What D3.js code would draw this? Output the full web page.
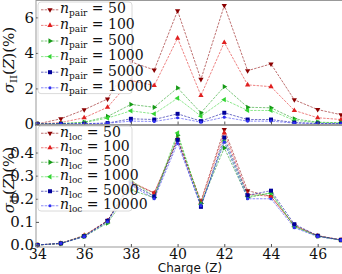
<!DOCTYPE html>
<html>
<head>
<meta charset="utf-8">
<script src="https://cdn.jsdelivr.net/npm/d3@7"></script>
<style>
  body { margin: 0; background: #fff; }
  svg { display: block; }
  .serif { font-family: "DejaVu Serif", "Liberation Serif", serif; }
</style>
</head>
<body>
<svg id="chart" width="342" height="274"></svg>
<script>
const charges = [34, 35, 36, 37, 38, 39, 40, 41, 42, 43, 44, 45, 46, 47];
const labels = ["50", "100", "500", "1000", "5000", "10000"];

// top panel: n_pair
const pair50 = [0, 0.29, 0.8, 1.41, 3.5, 3.04, 6.37, 2.51, 6.67, 3.0, 3.38, 1.36, 0.81, 0.52];
const pair100 = [0, 0.08, 0.35, 0.94, 2.45, 2.16, 4.83, 1.6, 4.59, 2.2, 2.1, 0.76, 0.35, 0.25];
const pair500 = [0, 0.02, 0.1, 0.42, 1.1, 0.94, 2.03, 0.63, 2.1, 0.94, 0.91, 0.29, 0.1, 0.07];
const pair1000 = [0, 0.02, 0.08, 0.33, 0.74, 0.57, 1.45, 0.44, 1.37, 0.76, 0.76, 0.2, 0.08, 0.05];
const pair5000 = [0, 0.01, 0.02, 0.05, 0.29, 0.25, 0.57, 0.16, 0.63, 0.25, 0.25, 0.08, 0.03, 0.02];
const pair10000 = [0, 0.01, 0.01, 0.04, 0.16, 0.14, 0.35, 0.1, 0.38, 0.16, 0.16, 0.05, 0.02, 0.01];

// bottom panel: n_loc
const loc50 = [0, 0.007, 0.04, 0.105, 0.27, 0.225, 0.455, 0.19, 0.5, 0.235, 0.21, 0.085, 0.04, 0.022];
const loc100 = [0, 0.007, 0.042, 0.105, 0.275, 0.225, 0.46, 0.185, 0.485, 0.22, 0.21, 0.083, 0.04, 0.022];
const loc500 = [0, 0.006, 0.036, 0.095, 0.238, 0.205, 0.475, 0.18, 0.42, 0.205, 0.225, 0.08, 0.038, 0.021];
const loc1000 = [0, 0.007, 0.04, 0.1, 0.28, 0.21, 0.485, 0.175, 0.45, 0.21, 0.225, 0.08, 0.038, 0.021];
const loc5000 = [0, 0.007, 0.038, 0.105, 0.265, 0.21, 0.455, 0.165, 0.465, 0.215, 0.235, 0.09, 0.04, 0.022];
const loc10000 = [0, 0.007, 0.036, 0.1, 0.26, 0.2, 0.44, 0.17, 0.445, 0.2, 0.2, 0.075, 0.036, 0.021];

const topTicks = [0, 2, 4, 6];
const bottomTicks = [0, 0.1, 0.2, 0.3, 0.4];
const xTicks = [34, 36, 38, 40, 42, 44, 46];

const colors = ["#8b0000", "#e02020", "#169a16", "#33d433", "#00009a", "#3030f0"];
const shapes = ["down", "up", "right", "left", "square", "circle"];

const svg = d3.select("#chart");
const left = 36, right = 345;

const x = d3.scaleLinear().domain([33.936, 47.17]).range([left, right]);

function markerPath(shape) {
    if (shape === "square") return d3.symbol(d3.symbolSquare, 16)();
    if (shape === "circle") return d3.symbol(d3.symbolCircle, 8)();
    return d3.symbol(d3.symbolTriangle, 12)();
}
function markerRot(shape) {
    return { down: 180, up: 0, right: 90, left: -90 }[shape] || 0;
}

function drawPanel(cfg) {
    const y = d3.scaleLinear().domain(cfg.yDomain).range([cfg.bottom, cfg.top]);
    const g = svg.append("g");

    g.append("rect")
        .attr("x", left).attr("y", cfg.top)
        .attr("width", right - left).attr("height", cfg.bottom - cfg.top)
        .attr("fill", "#fff");

    const line = d3.line().x((d, i) => x(charges[i])).y(d => y(d));

    cfg.series.forEach((s, k) => {
        g.append("path")
            .attr("d", line(s))
            .attr("fill", "none")
            .attr("stroke", colors[k])
            .attr("stroke-width", 0.8)
            .attr("stroke-opacity", 0.7)
            .attr("stroke-dasharray", "2.5,1.2");
        g.append("g").selectAll("path")
            .data(s)
            .enter().append("path")
            .attr("d", markerPath(shapes[k]))
            .attr("transform", (d, i) => `translate(${x(charges[i])},${y(d)}) rotate(${markerRot(shapes[k])})`)
            .attr("fill", colors[k]);
    });

    // axes frame
    g.append("rect")
        .attr("x", left).attr("y", cfg.top)
        .attr("width", right - left).attr("height", cfg.bottom - cfg.top)
        .attr("fill", "none")
        .attr("stroke", "#999")
        .attr("stroke-width", 1);

    const yAxis = g.append("g")
        .attr("transform", `translate(${left},0)`)
        .call(d3.axisLeft(y).tickValues(cfg.ticks).tickFormat(cfg.fmt).tickSize(-3).tickPadding(2));
    yAxis.select(".domain").remove();
    yAxis.selectAll("line").attr("stroke", "#555");
    yAxis.selectAll("text").attr("class", "serif").style("font-size", "15px").attr("fill", "#111");

    const xAxis = g.append("g")
        .attr("transform", `translate(0,${cfg.bottom})`)
        .call(d3.axisBottom(x).tickValues(xTicks).tickSize(-3).tickPadding(2));
    xAxis.select(".domain").remove();
    xAxis.selectAll("line").attr("stroke", "#555");
    xAxis.selectAll("text").attr("class", "serif").style("font-size", "14px").attr("fill", "#111")
        .style("display", cfg.xLabels ? null : "none");

    // y title
    const t = g.append("text")
        .attr("class", "serif")
        .attr("transform", `translate(14,${cfg.titleY}) rotate(-90)`)
        .attr("text-anchor", "middle")
        .style("font-size", "15px")
        .attr("fill", "#111");
    t.append("tspan").attr("font-style", "italic").text("σ");
    t.append("tspan").style("font-size", "10px").attr("dy", 3).text("II");
    t.append("tspan").attr("dy", -3).text("(");
    t.append("tspan").attr("font-style", "italic").text("Z");
    t.append("tspan").text(")(%)");

    // legend
    const lg = g.append("g");
    lg.append("rect")
        .attr("x", 38).attr("y", cfg.legTop)
        .attr("width", 94).attr("height", cfg.legStep * 6 - 2)
        .attr("rx", 3)
        .attr("fill", "#fff").attr("fill-opacity", 0.85)
        .attr("stroke", "#d0d0d0").attr("stroke-width", 0.8);
    labels.forEach((lab, k) => {
        const cy = cfg.legTop + cfg.legStep * (k + 0.5);
        lg.append("line")
            .attr("x1", 41).attr("x2", 59).attr("y1", cy).attr("y2", cy)
            .attr("stroke", colors[k]).attr("stroke-width", 0.8)
            .attr("stroke-opacity", 0.7).attr("stroke-dasharray", "2.5,1.2");
        lg.append("path")
            .attr("d", markerPath(shapes[k]))
            .attr("transform", `translate(50,${cy}) rotate(${markerRot(shapes[k])})`)
            .attr("fill", colors[k]);
        const tx = lg.append("text")
            .attr("class", "serif")
            .attr("x", 60).attr("y", cy + 3.5)
            .style("font-size", "14px")
            .attr("fill", "#111");
        tx.append("tspan").attr("font-style", "italic").text("n");
        tx.append("tspan").style("font-size", "9px").attr("dy", 3).text(cfg.sub);
        tx.append("tspan").attr("dy", -3).text(" = " + lab);
    });
}

drawPanel({
    top: 0.5, bottom: 124.5, yDomain: [-0.03, 6.95], ticks: topTicks,
    fmt: d3.format("d"), series: [pair50, pair100, pair500, pair1000, pair5000, pair10000],
    sub: "pair", legTop: 2, legStep: 15.6, titleY: 60, xLabels: false
});

drawPanel({
    top: 125.5, bottom: 247, yDomain: [-0.0087, 0.517], ticks: bottomTicks,
    fmt: d3.format(".1f"), series: [loc50, loc100, loc500, loc1000, loc5000, loc10000],
    sub: "loc", legTop: 126, legStep: 14.5, titleY: 180, xLabels: true
});

svg.append("text")
    .attr("x", 190).attr("y", 272)
    .attr("text-anchor", "middle")
    .style("font-family", "'DejaVu Sans', sans-serif")
    .style("font-size", "12px")
    .attr("fill", "#111")
    .text("Charge (Z)");
</script>
</body>
</html>
